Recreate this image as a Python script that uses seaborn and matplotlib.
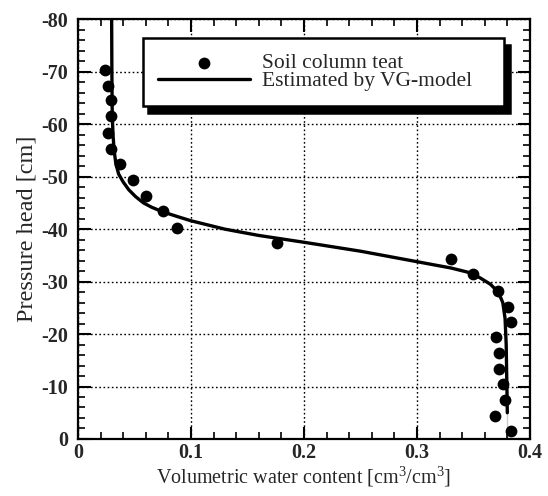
import matplotlib
matplotlib.use("Agg")
import matplotlib.pyplot as plt
import seaborn as sns
import pandas as pd
from matplotlib.ticker import MultipleLocator

# Measured points (soil column test)
obs_theta = [0.024, 0.027, 0.029, 0.029, 0.027, 0.029, 0.037, 0.049, 0.060, 0.075,
             0.088, 0.176, 0.330, 0.350, 0.372, 0.381, 0.383, 0.370, 0.373, 0.373,
             0.376, 0.378, 0.369, 0.383]
obs_head = [-70.4, -67.2, -64.6, -61.5, -58.3, -55.3, -52.5, -49.4, -46.4, -43.5,
            -40.3, -37.3, -34.4, -31.5, -28.3, -25.2, -22.3, -19.5, -16.3, -13.4,
            -10.5, -7.4, -4.4, -1.6]

# VG-model curve
vg_theta = [0.0298, 0.0300, 0.0303, 0.0310, 0.0320, 0.0335, 0.0360, 0.0400, 0.0450,
            0.0510, 0.0580, 0.0650, 0.0750, 0.0880, 0.100, 0.130, 0.160, 0.200,
            0.250, 0.300, 0.330, 0.345, 0.356, 0.365, 0.372, 0.376, 0.378, 0.379,
            0.380, 0.380]
vg_head = [-80.0, -70.0, -62.0, -58.0, -55.0, -52.5, -50.5, -49.0, -47.5,
           -46.2, -45.0, -44.2, -43.3, -42.4, -41.6, -40.0, -38.8, -37.5,
           -35.8, -33.8, -32.6, -31.8, -30.7, -29.5, -28.0, -26.0, -23.0, -18.0,
           -10.0, 0.0]

x_ticks = [0, 0.1, 0.2, 0.3, 0.4]
x_tick_labels = ["0", "0.1", "0.2", "0.3", "0.4"]
y_ticks = [0, -10, -20, -30, -40, -50, -60, -70, -80]
y_tick_labels = ["0", "-10", "-20", "-30", "-40", "-50", "-60", "-70", "-80"]

sns.set_style("ticks")
plt.rcParams["font.family"] = ["Liberation Serif", "DejaVu Serif"]
plt.rcParams["mathtext.fontset"] = "custom"
plt.rcParams["mathtext.rm"] = "Liberation Serif"

fig = plt.figure(figsize=(5.48, 4.96), dpi=100)
ax = fig.add_axes([0.1423, 0.115, 0.8247, 0.846])

obs = pd.DataFrame({"theta": obs_theta, "head": obs_head})
vg = pd.DataFrame({"theta": vg_theta, "head": vg_head})

sns.lineplot(data=vg, x="theta", y="head", sort=False, color="black", lw=2.4,
             ax=ax, label="Estimated by VG-model", zorder=3)
sns.scatterplot(data=obs, x="theta", y="head", color="black", s=72, edgecolor="black",
                linewidth=0, ax=ax, label="Soil column teat", zorder=4)

ax.set_xlim(0, 0.4)
ax.set_ylim(0, -80)
ax.set_xticks(x_ticks)
ax.set_xticklabels(x_tick_labels)
ax.set_yticks(y_ticks)
ax.set_yticklabels(y_tick_labels)
ax.xaxis.set_minor_locator(MultipleLocator(0.02))
ax.yaxis.set_minor_locator(MultipleLocator(2))
ax.tick_params(which="both", direction="in", top=True, right=True, color="black",
               labelsize=14.5)
ax.tick_params(axis="x", which="major", pad=3)
ax.tick_params(axis="y", which="major", pad=7)
ax.tick_params(which="major", length=9, width=1.5)
ax.tick_params(which="minor", length=5, width=1.2)
for lbl in ax.get_xticklabels() + ax.get_yticklabels():
    lbl.set_fontweight("bold")
for s in ax.spines.values():
    s.set_linewidth(1.6)
    s.set_color("black")
ax.grid(True, which="major", linestyle=(0, (1.2, 1.8)), color="black", lw=1.0)

ax.set_xlabel("Volumetric water content [cm$^3$/cm$^3$]", fontsize=14.5, labelpad=1)
ax.set_ylabel("Pressure head [cm]", fontsize=17.5, labelpad=3)

handles, labels = ax.get_legend_handles_labels()
order = [1, 0]
leg = ax.legend([handles[i] for i in order], [labels[i] for i in order],
                loc="upper left", bbox_to_anchor=(0.143, 0.955, 0.80, 0.0),
                mode="expand", fontsize=15.5, frameon=True, fancybox=False,
                handlelength=4.3, handletextpad=0.55, borderpad=0.7,
                labelspacing=-0.1, borderaxespad=0, markerscale=1.0,
                shadow={"color": "black", "alpha": 1.0, "ox": 4, "oy": -5})
leg.get_frame().set_edgecolor("black")
leg.get_frame().set_linewidth(1.8)
leg.get_frame().set_alpha(1.0)
leg.set_zorder(10)

fig.savefig("out.png", dpi=100)
